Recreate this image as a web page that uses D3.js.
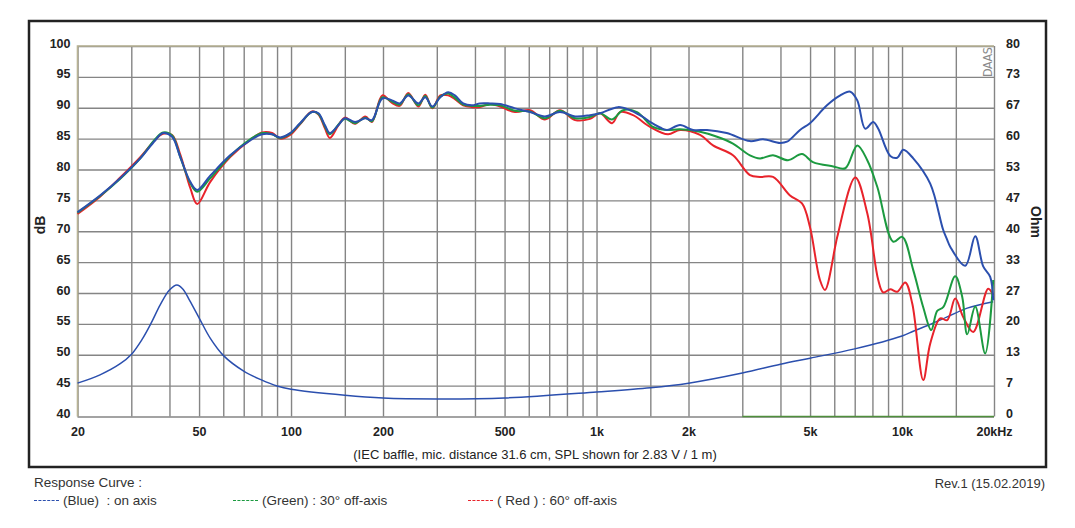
<!DOCTYPE html>
<html lang="en">
<head>
<meta charset="UTF-8">
<title>Response Curve</title>
<style>
  body { margin: 0; background: #fff; }
  svg { display: block; font-family: "Liberation Sans", Arial, sans-serif; }
  .tick text { font-weight: bold; font-size: 12.5px; fill: #222; }
  .grid line { stroke: #858585; stroke-width: 1.4; }
  .grid .domain { display: none; }
  .lbl .domain, .lbl line { display: none; }
</style>
</head>
<body>
<svg width="1075" height="528"></svg>
<script src="https://cdn.jsdelivr.net/npm/d3@7"></script>
<script>
// ---- data ----
var gridFreqs = [20, 30, 40, 50, 60, 70, 80, 90, 100, 150, 200, 300, 400, 500, 600, 700, 800, 900,
                 1000, 1500, 2000, 3000, 4000, 5000, 6000, 7000, 8000, 9000, 10000, 15000, 20000];
var freqTicks = [20, 50, 100, 200, 500, 1000, 2000, 5000, 10000, 20000];
var freqTickLabels = ["20", "50", "100", "200", "500", "1k", "2k", "5k", "10k", "20kHz"];
var dbTicks = [40, 45, 50, 55, 60, 65, 70, 75, 80, 85, 90, 95, 100];
var ohmTickLabels = ["0", "7", "13", "20", "27", "33", "40", "47", "53", "60", "67", "73", "80"];

// shared low/mid frequency points
var lowFreq = [20, 23.7, 27.6, 32.1, 35.9, 38.1, 40.8, 43.4, 46.8, 49.3, 54.4, 63.2, 73.5, 80.4, 86.7, 92.1, 99.3,
               107, 117, 123, 129, 134, 143, 150, 162, 175, 184, 199, 214, 227, 242, 261, 275, 290, 308, 327,
               344, 366, 391, 415, 448, 483, 541, 606, 678, 759, 851, 952, 1027];
var blueLow  = [73.1, 75.8, 78.6, 81.8, 84.7, 85.9, 85.3, 82.0, 78.0, 76.7, 79.0, 82.3, 84.7, 85.7, 85.7, 85.2, 85.9,
                87.5, 89.3, 89.1, 87.2, 85.9, 87.2, 88.3, 87.7, 88.3, 88.0, 91.5, 91.2, 90.7, 92.0, 90.7, 91.7, 90.2, 91.7, 92.5,
                92.0, 90.7, 90.4, 90.7, 90.7, 90.6, 89.9, 89.3, 88.6, 89.3, 88.6, 88.8, 89.1];
var greenLow = [73.0, 75.7, 78.5, 81.8, 84.9, 86.0, 85.5, 82.0, 77.8, 76.4, 78.6, 82.2, 84.9, 85.9, 85.7, 85.1, 85.8,
                87.4, 89.3, 89.0, 87.0, 85.7, 87.3, 88.2, 87.5, 88.4, 87.8, 91.7, 91.0, 90.5, 92.2, 90.4, 91.9, 90.0, 91.8, 92.3,
                91.6, 90.5, 90.3, 90.3, 90.5, 90.4, 89.5, 89.4, 88.3, 89.5, 88.3, 88.5, 89.1];
var redLow   = [72.8, 75.6, 78.7, 82.0, 84.8, 85.8, 85.6, 82.4, 77.0, 74.4, 78.0, 82.0, 84.8, 86.0, 85.9, 85.0, 85.6,
                87.3, 89.4, 88.9, 86.7, 85.1, 87.2, 88.4, 87.4, 88.6, 87.7, 92.0, 90.8, 90.3, 92.4, 90.2, 92.1, 89.9, 92.0, 92.0,
                91.4, 90.4, 90.1, 90.1, 90.6, 90.2, 89.3, 89.6, 88.1, 89.6, 88.0, 88.2, 89.1];

// high frequency points, per curve
var blueHighFreq = [1176, 1288, 1442, 1497, 1614, 1702, 1876, 2070, 2300, 2667, 3178, 3506, 3986, 4202, 4635, 4996,
                    5680, 6278, 6770, 7137, 7578, 8049, 8359, 9150, 9646, 10092, 10882, 12366, 13640, 14057, 14378,
                    16100, 17360, 18438, 19436, 19880];
var blueHigh = [90.1, 89.6, 88.3, 87.7, 86.8, 86.4, 87.2, 86.4, 86.4, 85.9, 84.6, 84.9, 84.3, 84.5, 86.4, 87.5,
                90.4, 92.0, 92.6, 91.2, 86.6, 87.7, 86.6, 82.2, 81.9, 83.2, 81.8, 77.7, 70.2, 68.6, 67.5,
                64.4, 69.2, 64.3, 62.6, 58.8];
var greenHighFreq = [1124, 1221, 1357, 1531, 1702, 1876, 2182, 2480, 2796, 3178, 3428, 3782, 4234, 4705, 5110, 5956,
                     6520, 7137, 7695, 8296, 9361, 10016, 10882, 11732, 12460, 13036, 13640, 14931, 15738, 16344,
                     17360, 18716, 19880];
var greenHigh = [88.1, 89.6, 89.3, 86.9, 86.4, 86.5, 86.1, 85.3, 84.2, 82.3, 81.8, 82.3, 81.5, 82.5, 81.2, 80.5,
                 80.2, 83.9, 81.5, 77.2, 68.3, 69.1, 63.7, 57.7, 54.0, 57.1, 57.7, 62.7, 59.4, 53.3,
                 57.8, 50.2, 62.1];
var redHighFreq = [1124, 1194, 1317, 1497, 1714, 1876, 2182, 2406, 2796, 3178, 3428, 3782, 4298, 4705, 4996, 5387,
                   5594, 6047, 6138, 7030, 7695, 8359, 8680, 9150, 9646, 10245, 10800, 11732, 12366, 13334, 14057,
                   14931, 15858, 17100, 19144, 19880];
var redHigh = [87.5, 89.3, 88.8, 86.9, 85.7, 86.4, 85.6, 83.9, 82.3, 79.1, 78.8, 78.8, 75.8, 74.5, 70.7, 62.1,
               60.5, 67.6, 69.1, 78.7, 72.9, 62.1, 60.1, 60.6, 60.2, 61.7, 58.3, 45.9, 51.8, 55.9, 55.6,
               59.1, 56.1, 53.7, 60.7, 59.6];

// impedance (Ohm)
var impFreq = [20, 23.7, 27.6, 30, 32.5, 34.8, 37.3, 40, 42.3, 44.3, 46.6, 50, 54.5, 60, 70, 80, 90, 100, 150, 200, 300,
               500, 1000, 1500, 2000, 3000, 4000, 5000, 7000, 10000, 10882, 12180, 14057, 16344, 19880];
var impOhm  = [7.2, 9.0, 11.4, 13.4, 16.6, 20.1, 24.1, 27.3, 28.4, 27.5, 25.0, 21.3, 16.8, 13.2, 9.8, 7.9, 6.6, 5.9, 4.6, 4.0, 3.8,
               4.0, 5.3, 6.2, 7.2, 9.4, 11.3, 12.6, 14.6, 17.4, 18.4, 19.7, 21.5, 23.4, 24.8];

// green trace along the bottom edge
var greenBaseFreq = [3000, 20000];
var greenBaseDb = [40, 40];

// ---- chart ----
var svg = d3.select("svg"),
    plotLeft = 77.5, plotRight = 994, plotTop = 46, plotBottom = 416.5;

var x = d3.scaleLog().domain([20, 20000]).range([plotLeft, plotRight]);
var y = d3.scaleLinear().domain([40, 100]).range([plotBottom, plotTop]);
var y2 = d3.scaleLinear().domain([0, 80]).range([plotBottom, plotTop]);

// outer frame
svg.append("rect")
    .attr("x", 29).attr("y", 21).attr("width", 1017).attr("height", 446)
    .attr("fill", "none").attr("stroke", "#222").attr("stroke-width", 2.5);

// grid
svg.append("g").attr("class", "grid")
    .attr("transform", "translate(0," + plotBottom + ")")
    .call(d3.axisBottom(x).tickValues(gridFreqs).tickSize(-(plotBottom - plotTop)).tickFormat(""));
svg.append("g").attr("class", "grid")
    .attr("transform", "translate(" + plotLeft + ",0)")
    .call(d3.axisLeft(y).tickValues(dbTicks).tickSize(-(plotRight - plotLeft)).tickFormat(""));

// khaki top/left border
svg.append("path")
    .attr("d", "M" + plotLeft + "," + plotBottom + "V" + plotTop + "H" + plotRight)
    .attr("fill", "none").attr("stroke", "#b8b394").attr("stroke-width", 1.6);

// axis labels
svg.append("g").attr("class", "lbl")
    .attr("transform", "translate(0," + (plotBottom + 8) + ")")
    .call(d3.axisBottom(x).tickValues(freqTicks).tickSize(0)
        .tickFormat(function(d, i) { return freqTickLabels[i]; }));
svg.append("g").attr("class", "lbl")
    .attr("transform", "translate(" + (plotLeft - 4) + ",-3)")
    .call(d3.axisLeft(y).tickValues(dbTicks).tickSize(0));
svg.append("g").attr("class", "lbl")
    .attr("transform", "translate(" + (plotRight + 9) + ",-3)")
    .call(d3.axisRight(y2).tickValues(ohmTickLabels.map(function(d, i) { return i * 80 / 12; })).tickSize(0)
        .tickFormat(function(d, i) { return ohmTickLabels[i]; }));

svg.append("text")
    .attr("transform", "translate(45,225) rotate(-90)")
    .attr("text-anchor", "middle").attr("font-weight", "bold").attr("font-size", 14).attr("fill", "#222")
    .text("dB");
svg.append("text")
    .attr("transform", "translate(1031,222) rotate(90)")
    .attr("text-anchor", "middle").attr("font-weight", "bold").attr("font-size", 14).attr("fill", "#222")
    .text("Ohm");

svg.append("text")
    .attr("transform", "translate(992,77) rotate(-90)")
    .attr("font-family", "DejaVu Sans Condensed, DejaVu Sans").attr("font-weight", 200)
    .attr("font-size", 12.5).attr("textLength", 30).attr("fill", "#8a8a8a")
    .text("DAAS");

// curves
function series(fs, vs) {
    return fs.map(function(f, i) { return [f, vs[i]]; });
}
var line = d3.line()
    .x(function(d) { return x(d[0]); })
    .y(function(d) { return y(d[1]); })
    .curve(d3.curveCatmullRom.alpha(0.5));
var impLine = d3.line()
    .x(function(d) { return x(d[0]); })
    .y(function(d) { return y2(d[1]); })
    .curve(d3.curveCatmullRom.alpha(0.5));

var plot = svg.append("g");
plot.append("path")
    .datum(series(greenBaseFreq, greenBaseDb))
    .attr("d", line).attr("fill", "none").attr("stroke", "#4f8f3c").attr("stroke-width", 1.6);
plot.append("path")
    .datum(series(impFreq, impOhm))
    .attr("d", impLine).attr("fill", "none").attr("stroke", "#2b4fae").attr("stroke-width", 1.5);

var curves = [
    {color: "#e8232b", data: series(lowFreq.concat(redHighFreq), redLow.concat(redHigh))},
    {color: "#1c9a40", data: series(lowFreq.concat(greenHighFreq), greenLow.concat(greenHigh))},
    {color: "#2b4fae", data: series(lowFreq.concat(blueHighFreq), blueLow.concat(blueHigh))}
];
plot.selectAll(".spl")
    .data(curves)
    .enter().append("path")
    .attr("class", "spl")
    .attr("d", function(d) { return line(d.data); })
    .attr("fill", "none")
    .attr("stroke", function(d) { return d.color; })
    .attr("stroke-width", 2);

// captions
svg.append("text")
    .attr("x", 535).attr("y", 459).attr("text-anchor", "middle")
    .attr("font-size", 13).attr("fill", "#222")
    .text("(IEC baffle, mic. distance 31.6 cm, SPL shown for 2.83 V / 1 m)");

svg.append("text").attr("x", 34).attr("y", 487).attr("font-size", 13.5).attr("fill", "#333")
    .text("Response Curve :");
svg.append("text").attr("x", 1045).attr("y", 488).attr("text-anchor", "end")
    .attr("font-size", 13).attr("fill", "#333")
    .text("Rev.1 (15.02.2019)");

var legend = [
    {x: 34, color: "#2b4fae", label: "(Blue)  : on axis"},
    {x: 233, color: "#1c9a40", label: "(Green) : 30\u00b0 off-axis"},
    {x: 468, color: "#e8232b", label: "( Red ) : 60\u00b0 off-axis"}
];
var lg = svg.selectAll(".leg")
    .data(legend)
    .enter().append("g")
    .attr("class", "leg")
    .attr("transform", function(d) { return "translate(" + d.x + ",505)"; });
lg.append("line")
    .attr("x1", 0).attr("x2", 26).attr("y1", -4.5).attr("y2", -4.5)
    .attr("stroke", function(d) { return d.color; })
    .attr("stroke-width", 1.2)
    .attr("stroke-dasharray", "3,1.4");
lg.append("text")
    .attr("x", 29)
    .attr("font-size", 13.5)
    .attr("fill", "#333")
    .attr("xml:space", "preserve")
    .style("white-space", "pre")
    .text(function(d) { return d.label; });
</script>
</body>
</html>
